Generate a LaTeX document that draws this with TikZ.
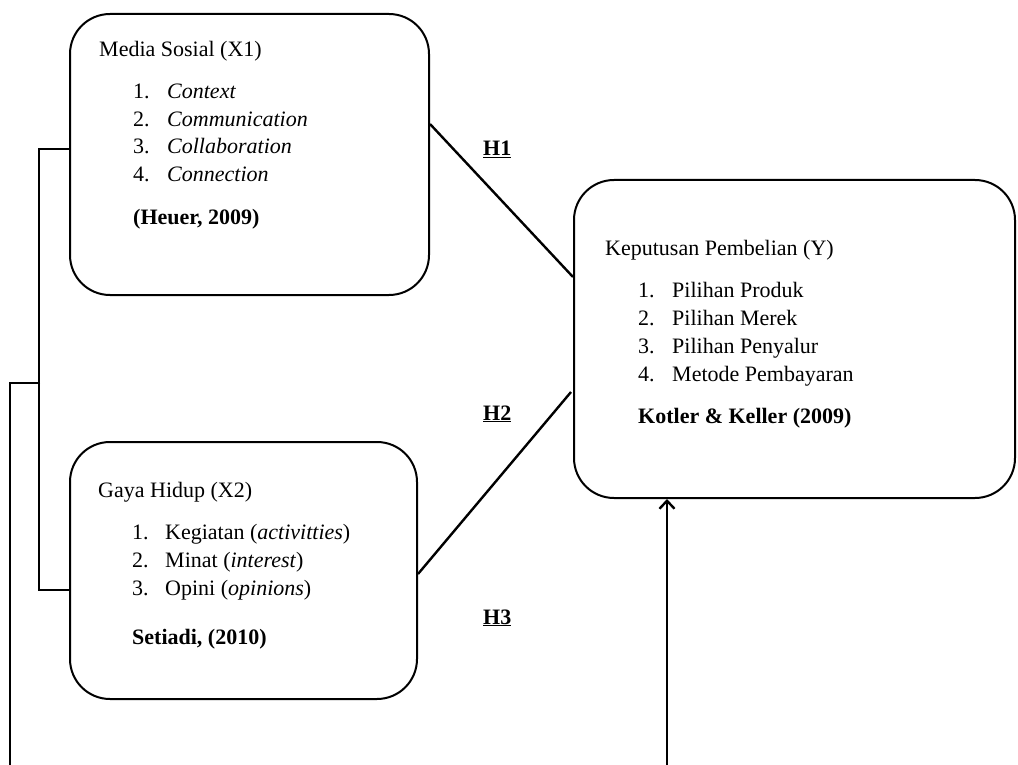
\documentclass[tikz,border=0pt]{standalone}
\usepackage{fontspec}
\setmainfont{Liberation Serif}
\usetikzlibrary{arrows.meta,calc}
\begin{document}
\begin{tikzpicture}[x=1pt,y=-1pt,
  box/.style={draw, line width=2pt, rounded corners=40pt, inner sep=0pt},
  txt/.style={anchor=base west, inner sep=0pt, font=\fontsize{22}{26}\selectfont},
  lnk/.style={line width=2.4pt}]
\useasboundingbox (0,0) rectangle (1018,765);
% boxes
\node[box, minimum width=359pt, minimum height=281pt] (x1) at (249.5,154.5) {};
\node[box, minimum width=347pt, minimum height=257pt] (x2) at (243.5,570.5) {};
\node[box, minimum width=441pt, minimum height=318pt] (yb) at (794.5,339) {};
% X1 texts
\node[txt] (x1t) at (99,57) {Media Sosial (X1)};
\node[txt] (x1n1) at (133,99) {1.};  \node[txt] (x1i1) at (167,99) {\textit{Context}};
\node[txt] (x1n2) at (133,127) {2.}; \node[txt] (x1i2) at (167,127) {\textit{Communication}};
\node[txt] (x1n3) at (133,154) {3.}; \node[txt] (x1i3) at (167,154) {\textit{Collaboration}};
\node[txt] (x1n4) at (133,182) {4.}; \node[txt] (x1i4) at (167,182) {\textit{Connection}};
\node[txt] (x1c) at (133,224) {\textbf{(Heuer, 2009)}};
% X2 texts
\node[txt] (x2t) at (98,497) {Gaya Hidup (X2)};
\node[txt] (x2n1) at (132,539) {1.}; \node[txt] (x2i1) at (165,539) {Kegiatan (\textit{activitties})};
\node[txt] (x2n2) at (132,567) {2.}; \node[txt] (x2i2) at (165,567) {Minat (\textit{interest})};
\node[txt] (x2n3) at (132,595) {3.}; \node[txt] (x2i3) at (165,595) {Opini (\textit{opinions})};
\node[txt] (x2c) at (132,644) {\textbf{Setiadi, (2010)}};
% Y texts
\node[txt] (yt) at (605,255) {Keputusan Pembelian (Y)};
\node[txt] (yn1) at (638,297) {1.}; \node[txt] (yi1) at (672,297) {Pilihan Produk};
\node[txt] (yn2) at (638,325) {2.}; \node[txt] (yi2) at (672,325) {Pilihan Merek};
\node[txt] (yn3) at (638,353) {3.}; \node[txt] (yi3) at (672,353) {Pilihan Penyalur};
\node[txt] (yn4) at (638,381) {4.}; \node[txt] (yi4) at (672,381) {Metode Pembayaran};
\node[txt] (yc) at (638,423) {\textbf{Kotler \& Keller (2009)}};
% hypothesis labels
\node[txt] (h1) at (483,156) {\textbf{\underline{H1}}};
\node[txt] (h2) at (483,420) {\textbf{\underline{H2}}};
\node[txt] (h3) at (483,624) {\textbf{\underline{H3}}};
% connectors
\coordinate (x1e) at ($(x1.north east)+(0,111)$);
\coordinate (yw1) at ($(yb.north west)+(0,98)$);
\coordinate (x2e) at ($(x2.north east)+(0,133)$);
\coordinate (yw2) at ($(yb.north west)+(-2,213)$);
\draw[lnk] (x1e) -- (yw1);
\draw[lnk] (x2e) -- (yw2);
% bracket
\coordinate (x1w) at ($(x1.north west)+(0,136)$);
\coordinate (x2w) at ($(x2.north west)+(0,149)$);
\coordinate (bm) at (40,383);
\coordinate (lb) at (10,765);
\coordinate (af) at (667,765);
\draw[lnk] (x1w) -- ++(-30,0) -- ($(x2w)+(-30,0)$) -- (x2w);
\draw[lnk] (bm) -- (bm -| lb) -- (lb);
\draw[lnk, -{Straight Barb[length=8pt,width=15pt,line width=2.4pt]}] (af) -- (af |- yb.south);
\end{tikzpicture}
\end{document}
